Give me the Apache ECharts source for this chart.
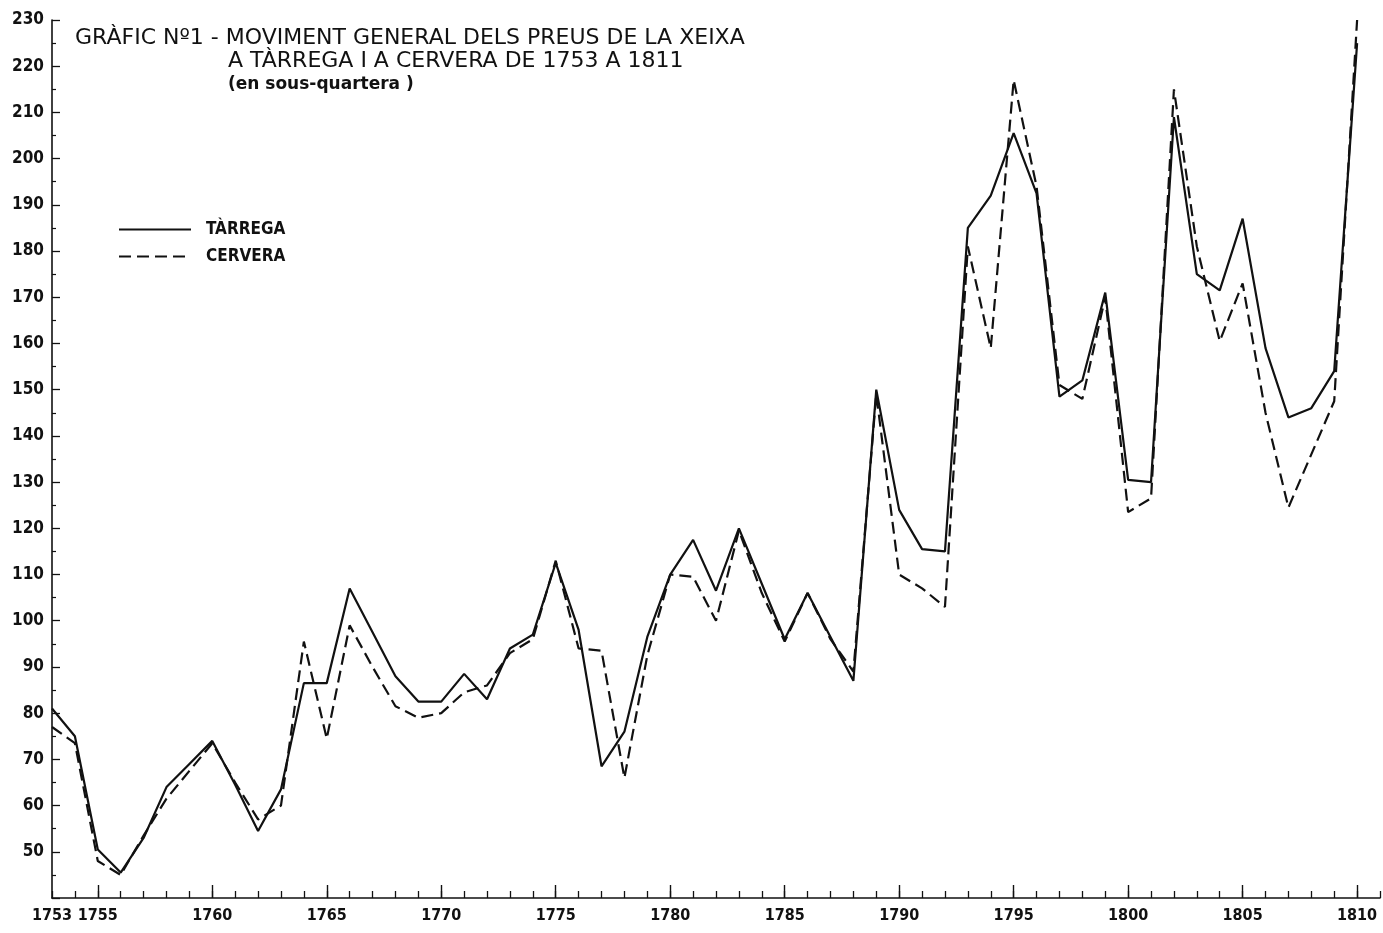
<!DOCTYPE html>
<html>
<head>
<meta charset="utf-8">
<script src="https://cdn.jsdelivr.net/npm/echarts@6/dist/echarts.min.js"></script>
<style>
html,body{margin:0;padding:0;background:#fff;}
#chart{width:1383px;height:933px;}
</style>
</head>
<body>
<div id="chart"></div>
<script>
const years = [];
for (let y = 1753; y <= 1810; y++) years.push(y);

const tarrega = [81,75,50.5,45.5,53,64,69,74,64.5,54.5,
  63.5,86.5,86.5,107,97.5,88,82.5,82.5,88.5,83,
  94,97,112.5,98,68.5,76,96.5,110,117.5,106.5,
  120,108,96,106,96.5,87,150,124,115.5,115,
  185,192,205.5,192.5,148.5,152,171,130.5,130,209,
  175,171.5,187,159,144,146,154,225];

const cervera = [77,73.5,48,45,53.5,61.5,67.5,73.5,65,57,
  60,95.5,74.5,99,90,81.5,79,80,84.5,86,
  93,96,113,94,93.5,66,92.5,110,109.5,100,
  119.5,106,95.5,106,96,89,149,110,107,103,
  181,159,217,194,151,148,170,123.5,126.5,215,
  181,160.5,173,145,124.5,136,147.5,230];

const xLabelYears = [1753,1755,1760,1765,1770,1775,1780,1785,1790,1795,1800,1805,1810];
const majorTickYears = [1755,1760,1765,1770,1775,1780,1785,1790,1795,1800,1805,1810];

const titleLines = [
  'GRÀFIC Nº1 - MOVIMENT GENERAL DELS PREUS DE LA XEIXA',
  'A TÀRREGA I A CERVERA DE 1753 A 1811',
  '(en sous-quartera )'
];

const TFONT = '"DejaVu Sans", sans-serif';
const FONT = '"DejaVu Sans Condensed", "DejaVu Sans", sans-serif';
const INK = '#111';

const chart = echarts.init(document.getElementById('chart'));
chart.setOption({
  animation: false,
  backgroundColor: '#fff',
  title: [
    {text: titleLines[0], left: 75, top: 27, padding: 0,
     textStyle: {fontFamily: TFONT, fontSize: 22, fontWeight: 'normal', color: INK}},
    {text: titleLines[1], left: 228, top: 50, padding: 0,
     textStyle: {fontFamily: TFONT, fontSize: 22, fontWeight: 'normal', color: INK}},
    {text: titleLines[2], left: 228, top: 76, padding: 0,
     textStyle: {fontFamily: TFONT, fontSize: 17, fontWeight: 'bold', color: INK}}
  ],
  legend: {
    orient: 'vertical', left: 118, top: 221, padding: 0,
    itemWidth: 72, itemHeight: 14, itemGap: 10,
    itemStyle: {opacity: 0},
    textStyle: {fontFamily: FONT, fontSize: 17, fontWeight: 'bold', color: INK, padding: [0,0,0,10]},
    data: ['TÀRREGA', 'CERVERA']
  },
  grid: {left: 52, right: 1, top: 20, bottom: 35, containLabel: false},
  xAxis: [
    {type: 'value', min: 1753, max: 1811, interval: 1,
     axisLine: {show: true, onZero: false, lineStyle: {color: INK, width: 1.6}},
     axisTick: {show: true, inside: true, length: 7, lineStyle: {color: INK, width: 1.3}},
     axisLabel: {margin: 10, fontFamily: FONT, fontSize: 16, fontWeight: 'bold', color: INK,
       formatter: v => (xLabelYears.indexOf(v) >= 0 ? String(v) : '')},
     splitLine: {show: false}},
    {type: 'value', min: 1753, max: 1811, position: 'bottom',
     axisLine: {show: false},
     axisTick: {show: true, inside: true, length: 13, customValues: majorTickYears, lineStyle: {color: INK, width: 1.4}},
     axisLabel: {show: false},
     splitLine: {show: false}}
  ],
  yAxis: {
    type: 'value', min: 40, max: 230, interval: 10,
    axisLine: {show: true, onZero: false, lineStyle: {color: INK, width: 1.6}},
    axisTick: {show: true, inside: true, length: 8, lineStyle: {color: INK, width: 1.3}},
    minorTick: {show: true, splitNumber: 2, length: 4, lineStyle: {color: INK, width: 1.2}},
    axisLabel: {margin: 8, fontFamily: FONT, fontSize: 17, fontWeight: 'bold', color: INK,
      formatter: v => (v === 40 ? '' : String(v))},
    splitLine: {show: false}
  },
  series: [
    {name: 'TÀRREGA', type: 'line', xAxisIndex: 0, symbol: 'none',
     data: years.map((y, i) => [y, tarrega[i]]),
     lineStyle: {color: INK, width: 2.2}, itemStyle: {color: INK}},
    {name: 'CERVERA', type: 'line', xAxisIndex: 0, symbol: 'none',
     data: years.map((y, i) => [y, cervera[i]]),
     lineStyle: {color: INK, width: 2.2, type: [12, 6]}, itemStyle: {color: INK}}
  ]
});
</script>
</body>
</html>
